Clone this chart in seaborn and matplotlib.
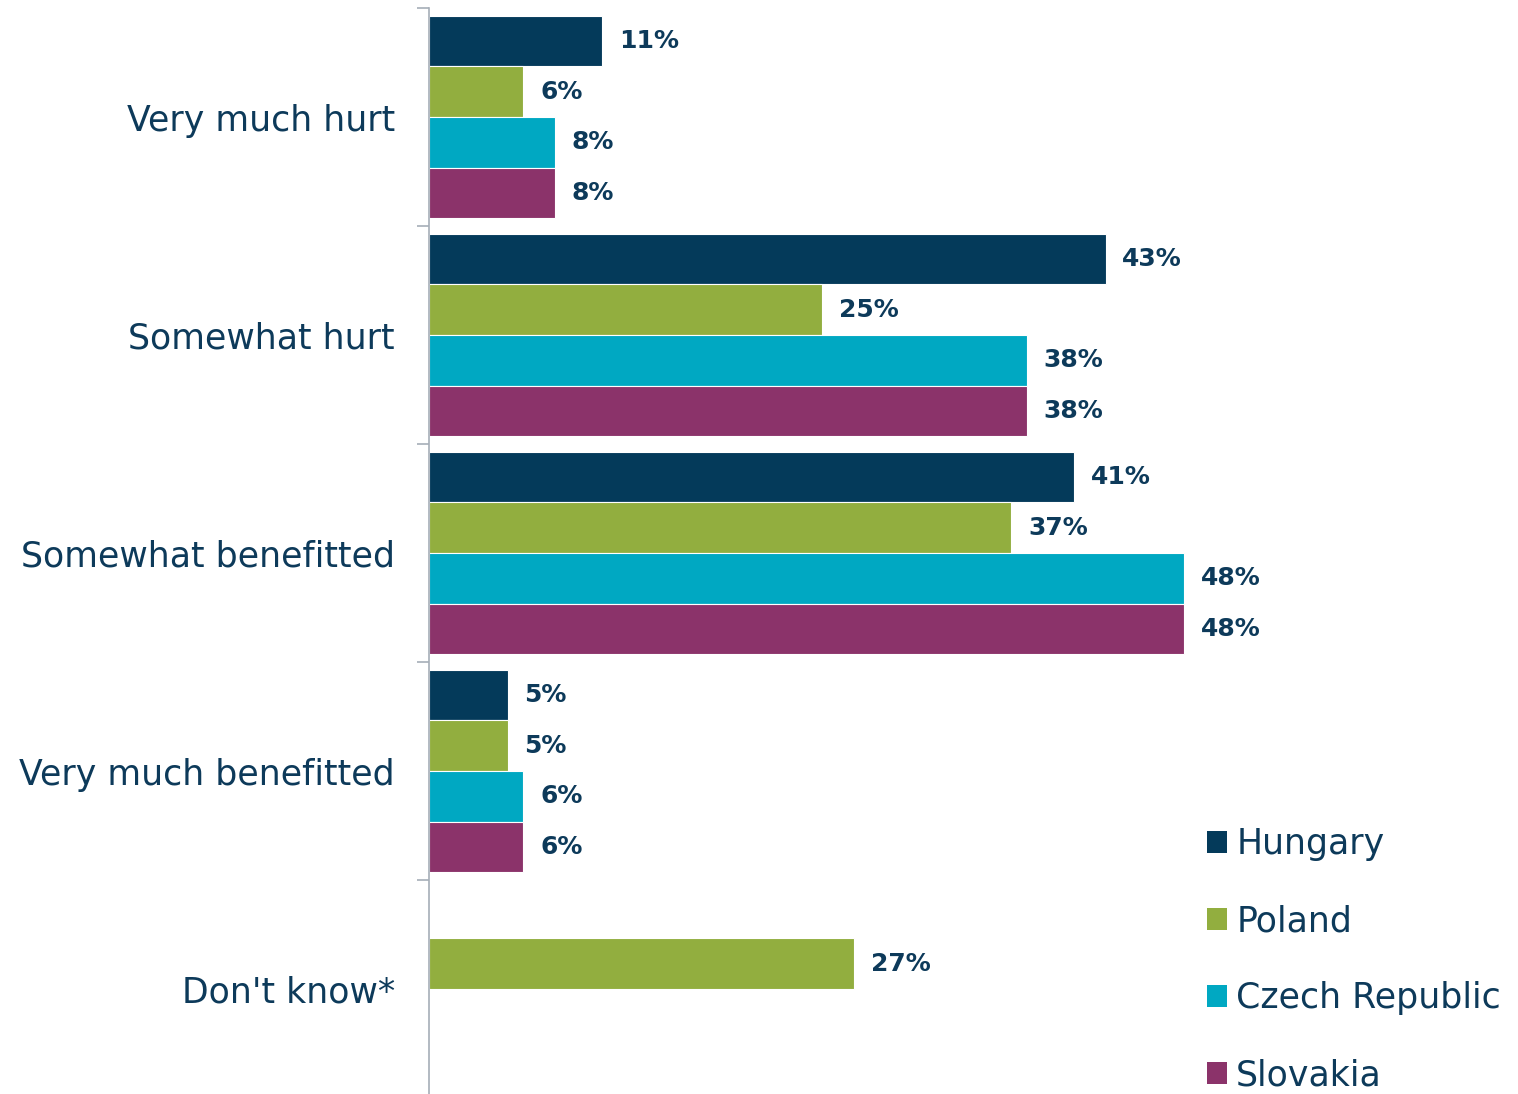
import pandas as pd
import matplotlib.pyplot as plt
import seaborn as sns
from matplotlib.patches import Patch

# Survey responses and country series
responses = ['Very much hurt', 'Somewhat hurt', 'Somewhat benefitted',
             'Very much benefitted', "Don't know*"]
countries = ['Hungary', 'Poland', 'Czech Republic', 'Slovakia']
hungary = [11, 43, 41, 5, None]
poland = [6, 25, 37, 5, 27]
czech = [8, 38, 48, 6, None]
slovakia = [8, 38, 48, 6, None]
colors = ['#043A5A', '#92AE3F', '#00A8C2', '#8B336A']

TEXT = '#0D3A5A'
GRAY = '#A6AEB8'

# long form table for seaborn, missing answers dropped
rows = []
for country, vals in zip(countries, [hungary, poland, czech, slovakia]):
    for resp, v in zip(responses, vals):
        if v is not None:
            rows.append({'response': resp, 'country': country, 'pct': v})
df = pd.DataFrame(rows)

sns.set_theme(style='white')
plt.rcParams['font.family'] = ['DejaVu Sans']

fig = plt.figure(figsize=(15.18, 10.94), dpi=100)
ax = fig.add_axes([429 / 1518, -4 / 1094, 1 - 429 / 1518, 1090 / 1094])

sns.barplot(data=df, y='response', x='pct', hue='country', orient='h',
            order=responses, hue_order=countries, palette=colors,
            saturation=1, width=0.93, dodge=True, edgecolor='white',
            linewidth=0.8, errorbar=None, ax=ax)

for cont in ax.containers:
    ax.bar_label(cont, fmt='%.0f%%', padding=12, fontsize=18,
                 color=TEXT, fontweight='bold')

ax.set_xlim(0, 69.2)
ax.set_ylim(4.5, -0.5)
ax.set_xlabel('')
ax.set_ylabel('')
ax.set_xticks([])

# category labels and boundary ticks
ax.tick_params(axis='y', which='major', length=0, pad=24.5,
               labelsize=25, labelcolor=TEXT)
ax.set_yticks([i - 0.5 for i in range(len(responses) + 1)], minor=True)
ax.tick_params(axis='y', which='minor', length=8.6, width=1.2, color=GRAY,
               left=True)

for side in ['top', 'right', 'bottom']:
    ax.spines[side].set_visible(False)
ax.spines['left'].set_color(GRAY)
ax.spines['left'].set_linewidth(1.2)

# legend with square markers
ax.get_legend().remove()
handles = [Patch(facecolor=c, edgecolor='none') for c in colors]
leg = fig.legend(handles, countries, loc='upper left',
                 bbox_to_anchor=(1207 / 1518, 1 - 827 / 1094),
                 frameon=False, fontsize=25, handlelength=0.58,
                 handleheight=0.58, handletextpad=0.26, labelspacing=1.24,
                 borderpad=0, borderaxespad=0)
for t in leg.get_texts():
    t.set_color(TEXT)

fig.savefig('out.png', dpi=100)
